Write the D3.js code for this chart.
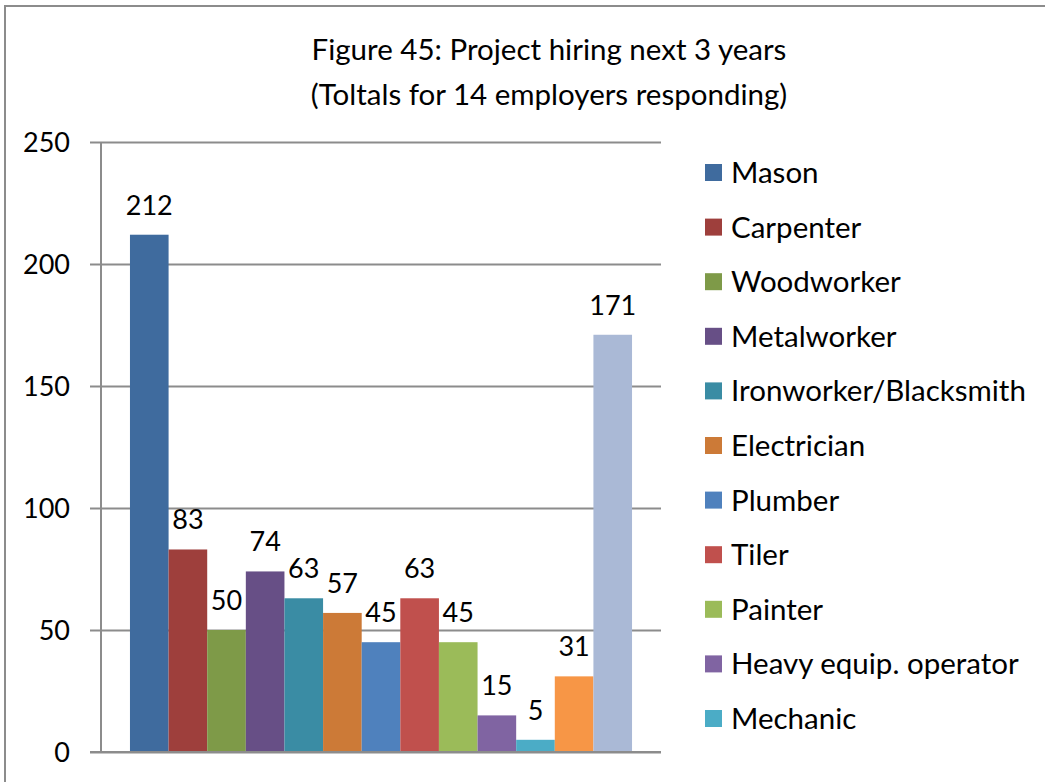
<!DOCTYPE html>
<html>
<head>
<meta charset="utf-8">
<script src="https://cdn.jsdelivr.net/npm/d3@7"></script>
<style>
  html, body { margin: 0; padding: 0; background: #fff; }
  svg { display: block; }
  text { font-family: Lato, "Open Sans", sans-serif; fill: #000; }
</style>
</head>
<body>
<svg id="chart" width="1045" height="782"></svg>
<script>
// Hiring totals per trade (one bar per series)
const values = [212, 83, 50, 74, 63, 57, 45, 63, 45, 15, 5, 31, 171];
// Series colours, in bar order
const colors = ["#3F6B9E", "#9E3F3C", "#7E9A48", "#674F86", "#3A8CA4", "#CC7A37",
                "#4F81BD", "#C0504D", "#9BBB59", "#8064A2", "#4BACC6", "#F79646", "#AAB9D6"];
// Legend entries that fit in the legend box
const legendNames = ["Mason", "Carpenter", "Woodworker", "Metalworker", "Ironworker/Blacksmith",
                     "Electrician", "Plumber", "Tiler", "Painter", "Heavy equip. operator", "Mechanic"];
const yTicks = [0, 50, 100, 150, 200, 250];
const titleLines = ["Figure 45: Project hiring next 3 years", "(Toltals for 14 employers responding)"];

const svg = d3.select("#chart");
const plot = { left: 101, right: 661, top: 142, bottom: 752 };
const grey = "#8C8C8C";
const numSize = 27;   // numbers (ticks, value labels)
const wordSize = 29.5; // title and legend words

// Outer chart frame (runs past the right and bottom edges)
svg.append("rect")
  .attr("x", 5).attr("y", 6)
  .attr("width", 1100).attr("height", 820)
  .attr("fill", "none").attr("stroke", grey).attr("stroke-width", 2);

// Title
svg.append("g").selectAll("text").data(titleLines).join("text")
  .attr("x", 549).attr("y", (d, i) => 60 + i * 45)
  .attr("text-anchor", "middle")
  .attr("font-size", wordSize)
  .text(d => d);

const y = d3.scaleLinear().domain([0, 250]).range([plot.bottom, plot.top]);
const x = d3.scaleBand()
  .domain(d3.range(values.length))
  .range([plot.left, plot.right])
  .paddingInner(0).paddingOuter(0.75);

// Horizontal gridlines with their left tick marks
const yAxis = d3.axisLeft(y).tickValues(yTicks)
  .tickSize(-(plot.right - plot.left)).tickFormat("");
const gy = svg.append("g").attr("transform", `translate(${plot.left},0)`).call(yAxis);
gy.select(".domain").remove();
gy.selectAll(".tick line")
  .attr("x1", -11)
  .attr("stroke", grey).attr("stroke-width", 2);

// Y tick labels
svg.append("g").selectAll("text").data(yTicks).join("text")
  .attr("x", 70).attr("y", d => y(d) + 10)
  .attr("text-anchor", "end")
  .attr("font-size", numSize)
  .text(d => d);

// Value axis line
svg.append("line")
  .attr("x1", plot.left).attr("x2", plot.left)
  .attr("y1", plot.top).attr("y2", plot.bottom)
  .attr("stroke", grey).attr("stroke-width", 2);

// Bars
svg.append("g").selectAll("rect").data(values).join("rect")
  .attr("x", (d, i) => x(i))
  .attr("width", x.bandwidth())
  .attr("y", d => y(d))
  .attr("height", d => y(0) - y(d))
  .attr("fill", (d, i) => colors[i]);

// Category axis line
svg.append("line")
  .attr("x1", 90).attr("x2", plot.right)
  .attr("y1", plot.bottom).attr("y2", plot.bottom)
  .attr("stroke", grey).attr("stroke-width", 2);

// Value labels above each bar
svg.append("g").selectAll("text").data(values).join("text")
  .attr("x", (d, i) => x(i) + x.bandwidth() / 2)
  .attr("y", d => y(d) - 20)
  .attr("text-anchor", "middle")
  .attr("font-size", numSize)
  .text(d => d);

// Legend
const legend = svg.append("g").selectAll("g").data(legendNames).join("g")
  .attr("transform", (d, i) => `translate(705,${173 + i * 54.6})`);
legend.append("rect")
  .attr("x", 0).attr("y", -9)
  .attr("width", 17).attr("height", 17)
  .attr("fill", (d, i) => colors[i]);
legend.append("text")
  .attr("x", 26).attr("y", 10)
  .attr("font-size", wordSize)
  .text(d => d);
</script>
</body>
</html>
